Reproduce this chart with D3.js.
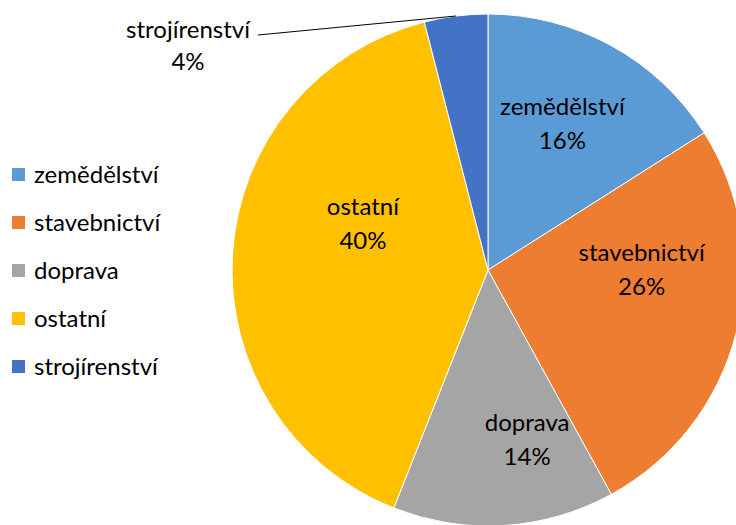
<!DOCTYPE html>
<html>
<head>
<meta charset="utf-8">
<script src="https://cdn.jsdelivr.net/npm/d3@7"></script>
<style>
  body { margin: 0; background: #fff; }
  text { font-family: Lato, "Open Sans", sans-serif; fill: #000; }
</style>
</head>
<body>
<svg id="chart" width="736" height="525"></svg>
<script>
// data
const categories = ["zemědělství", "stavebnictví", "doprava", "ostatní", "strojírenství"];
const shares = [16, 26, 14, 40, 4];
const colors = ["#5B9BD5", "#ED7D31", "#A5A5A5", "#FFC000", "#4472C4"];

// where Excel's "best fit" put each inside label: angle (deg) and radius fraction
const labelAngle = [27, 90, 167, 290];
const labelRadius = [0.64, 0.60, 0.68, 0.52];

const width = 736, height = 525;
const cx = 488, cy = 270, radius = 256;
const fontSize = "24px";

let svg = d3.select("#chart");

let data = categories.map((c, i) => ({ name: c, value: shares[i], color: colors[i] }));

let pie = d3.pie().sort(null).value(d => d.value);
let arc = d3.arc().innerRadius(0).outerRadius(radius);

let g = svg.append("g").attr("transform", "translate(" + cx + "," + cy + ")");
let arcs = pie(data);

g.selectAll("path")
    .data(arcs)
    .enter()
    .append("path")
    .attr("d", arc)
    .attr("fill", d => d.data.color)
    .attr("stroke", "#fff")
    .attr("stroke-width", 1);

// labels inside the slices (the small last slice gets a leader line)
arcs.forEach(function (d, i) {
    let pct = Math.round(d.data.value / d3.sum(shares) * 100) + "%";
    if (i < arcs.length - 1) {
        let a = labelAngle[i] * Math.PI / 180;
        let r = labelRadius[i] * radius;
        let c = [Math.sin(a) * r, -Math.cos(a) * r];
        let t = g.append("text").attr("text-anchor", "middle").style("font-size", fontSize);
        t.append("tspan").attr("x", c[0]).attr("y", c[1] - 9).text(d.data.name);
        t.append("tspan").attr("x", c[0]).attr("y", c[1] + 25).text(pct);
    } else {
        let mid = (d.startAngle + d.endAngle) / 2;
        let edge = [Math.sin(mid) * radius, -Math.cos(mid) * radius];
        let elbow = [258 - cx, 35 - cy];
        g.append("polyline")
            .attr("points", [elbow, edge].map(p => p.join(",")).join(" "))
            .attr("fill", "none")
            .attr("stroke", "#000")
            .attr("stroke-width", 1);
        let t = g.append("text").attr("text-anchor", "middle").style("font-size", fontSize);
        t.append("tspan").attr("x", 188 - cx).attr("y", 38 - cy).text(d.data.name);
        t.append("tspan").attr("x", 188 - cx).attr("y", 70 - cy).text(pct);
    }
});

// legend
let legend = svg.append("g").attr("transform", "translate(12,168)");
let item = legend.selectAll("g")
    .data(data)
    .enter()
    .append("g")
    .attr("transform", (d, i) => "translate(0," + i * 48 + ")");

item.append("rect")
    .attr("width", 13)
    .attr("height", 13)
    .attr("fill", d => d.color);

item.append("text")
    .attr("x", 22)
    .attr("y", 15)
    .style("font-size", fontSize)
    .text(d => d.name);
</script>
</body>
</html>
